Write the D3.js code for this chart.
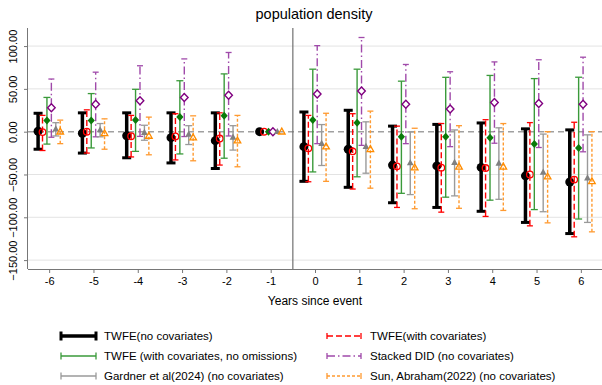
<!DOCTYPE html>
<html><head><meta charset="utf-8">
<script src="https://cdn.jsdelivr.net/npm/d3@7"></script>
<style>body{margin:0;background:#fff}svg{display:block;font-family:"Liberation Sans",Arial,sans-serif}</style>
</head><body>
<svg id="c" width="602" height="385"></svg>
<script>
const years = [-6,-5,-4,-3,-2,-1,0,1,2,3,4,5,6];
const yTicks = [100,50,0,-50,-100,-150];

const twfeNoCovEst = [0.5,-1.8,-4.7,-7,-10.5,0,-17.5,-20.5,-39,-40,-41.7,-51.6,-58.8];
const twfeNoCovLo  = [-20.5,-25,-30.5,-36.5,-43,0,-58,-65,-83,-88.5,-93,-106,-119];
const twfeNoCovHi  = [21.5,22,22,22,22,0,23,25,6.5,8.5,10.2,3.3,2.1];

const twfeCovEst = [-0.5,0,-5.3,-5.5,-8,0,-19.5,-23,-40.5,-42,-42.5,-50,-56];
const twfeCovLo  = [-22,-25,-29.5,-33,-39,0,-58.5,-67,-88.5,-94,-99,-110,-122.8];
const twfeCovHi  = [19,25.5,19,21,22,0,19,21,6.5,9.5,14,10.6,11];

const twfeNoOmitEst = [13,13,13.5,17,18.5,0,13.5,10.5,-6,-6,-7,-14.5,-19];
const twfeNoOmitLo  = [-14.5,-19,-23,-26,-31,0,-47,-52.7,-72,-76.5,-80,-91,-102];
const twfeNoOmitHi  = [40,44.5,49.5,59.5,67.5,0,73,73,59,63.5,65.7,62,63.6];

const stackedEst = [28,32,36,40,42.5,0,44,47.5,32,26.5,34,33,32];
const stackedLo  = [-6.5,-6,-5.5,-5.7,-5,0,-14,-16,-14,-17.5,-13.5,-18.5,-23.5];
const stackedHi  = [61.5,69.5,77,85,92.5,0,100.5,110,78.5,70,81.5,84,87];

const gardnerEst = [3,2,-1,-3,-6.5,0,-14,-17.5,-36.5,-36,-37,-47.5,-54.3];
const gardnerLo  = [-5,-6,-10,-15,-21.5,0,-39.5,-48.5,-73.5,-75,-79,-93.5,-106];
const gardnerHi  = [10.5,9.5,7.5,7,7,0,8.3,11.5,-0.3,2,4.5,-2.8,-3.7];

const sunEst = [0,-2,-5,-7,-10.5,0,-17.5,-20.5,-42,-41,-41,-52.5,-58];
const sunLo  = [-14,-20.5,-27,-34,-41,0,-58,-66,-90,-89.5,-92,-106.5,-117];
const sunHi  = [13.5,15,17,18.5,19,0,21.5,24,4,7,9.5,0,0];

const labels = ["TWFE(no covariates)","TWFE(with covariates)","TWFE (with covariates, no omissions)","Stacked DID (no covariates)","Gardner et al(2024) (no covariates)","Sun, Abraham(2022) (no covariates)"];

const series = [
  {name:labels[0], est:twfeNoCovEst, lo:twfeNoCovLo, hi:twfeNoCovHi, off:-0.25, color:"#000", mcolor:"#000", w:3.5, dash:null, cap:4.5, capW:3, marker:"dot"},
  {name:labels[1], est:twfeCovEst, lo:twfeCovLo, hi:twfeCovHi, off:-0.15, color:"#ff0000", mcolor:"#ff0000", w:1.4, dash:"6,3", cap:3, capW:1.3, marker:"circle"},
  {name:labels[2], est:twfeNoOmitEst, lo:twfeNoOmitLo, hi:twfeNoOmitHi, off:-0.05, color:"#3a9a3a", mcolor:"#0a7a0a", w:1.4, dash:null, cap:3.5, capW:1.3, marker:"diamondF"},
  {name:labels[3], est:stackedEst, lo:stackedLo, hi:stackedHi, off:0.05, color:"#a04aaa", mcolor:"#800080", w:1.4, dash:"8,3,1.5,3", cap:3, capW:1.3, marker:"diamondO"},
  {name:labels[4], est:gardnerEst, lo:gardnerLo, hi:gardnerHi, off:0.15, color:"#9a9a9a", mcolor:"#808080", w:1.4, dash:null, cap:3.5, capW:1.3, marker:"triF"},
  {name:labels[5], est:sunEst, lo:sunLo, hi:sunHi, off:0.25, color:"#ff9a30", mcolor:"#ff8c00", w:1.4, dash:"3,2", cap:3, capW:1.3, marker:"triO"}
];

const svg = d3.select("#c");
const pL = 28, pR = 602, pT = 28, pB = 269;
const x = d3.scaleLinear().domain([-6.5,6.5]).range([27,603]);
const y = d3.scaleLinear().domain([-160.4,121.1]).range([pB,pT]);

// gridlines
svg.append("g").selectAll("line").data(yTicks.filter(d=>d!==0)).join("line")
  .attr("x1",pL).attr("x2",pR).attr("y1",d=>y(d)).attr("y2",d=>y(d))
  .attr("stroke","#e3e3e3").attr("stroke-width",1);
// zero dashed
svg.append("line").attr("x1",pL).attr("x2",pR).attr("y1",y(0)).attr("y2",y(0))
  .attr("stroke","#a0a0a0").attr("stroke-width",1.5).attr("stroke-dasharray","6,4");
// vertical event line
svg.append("line").attr("x1",x(-0.5)).attr("x2",x(-0.5)).attr("y1",pT).attr("y2",pB)
  .attr("stroke","#707070").attr("stroke-width",1.2);

// axes
const yAxis = d3.axisLeft(y).tickValues(yTicks).tickSize(4).tickFormat(d3.format(".2f"));
const gy = svg.append("g").attr("transform",`translate(${pL},0)`).call(yAxis);
gy.select(".domain").attr("stroke","#777").attr("d",`M-0.5,${pT}V${pB}`);
gy.selectAll(".tick line").attr("stroke","#777");
gy.selectAll(".tick text").attr("font-size",11).attr("fill","#000")
  .attr("text-anchor","middle").attr("x",null).attr("dy",null)
  .attr("transform","translate(-11.5,0) rotate(-90)");

const xAxis = d3.axisBottom(x).tickValues(years).tickSize(4).tickFormat(d=>d<0?"-"+Math.abs(d):d);
const gx = svg.append("g").attr("transform",`translate(0,${pB})`).call(xAxis);
gx.select(".domain").attr("stroke","#777").attr("d",`M${pL},0.5H${pR}`);
gx.selectAll(".tick line").attr("stroke","#777");
gx.selectAll(".tick text").attr("font-size",11).attr("fill","#000").attr("y",8).attr("dy","0.71em");

svg.append("text").attr("x",315).attr("y",305).attr("text-anchor","middle").attr("font-size",12).text("Years since event");
svg.append("text").attr("x",314).attr("y",19).attr("text-anchor","middle").attr("font-size",14.5).text("population density");

function drawMarker(g, s, cx, cy) {
  if (s.marker==="dot") g.append("circle").attr("cx",cx).attr("cy",cy).attr("r",4.5).attr("fill",s.mcolor);
  else if (s.marker==="circle") g.append("circle").attr("cx",cx).attr("cy",cy).attr("r",3.3).attr("fill","none").attr("stroke",s.mcolor).attr("stroke-width",1.3);
  else if (s.marker==="diamondF") g.append("path").attr("d",`M${cx},${cy-4}L${cx+3.6},${cy}L${cx},${cy+4}L${cx-3.6},${cy}Z`).attr("fill",s.mcolor);
  else if (s.marker==="diamondO") g.append("path").attr("d",`M${cx},${cy-4}L${cx+3.8},${cy}L${cx},${cy+4}L${cx-3.8},${cy}Z`).attr("fill","#fff").attr("stroke",s.mcolor).attr("stroke-width",1.4);
  else if (s.marker==="triF") g.append("path").attr("d",`M${cx},${cy-3.8}L${cx+3.4},${cy+2.4}L${cx-3.4},${cy+2.4}Z`).attr("fill",s.mcolor);
  else if (s.marker==="triO") g.append("path").attr("d",`M${cx},${cy-3.6}L${cx+3.3},${cy+2.3}L${cx-3.3},${cy+2.3}Z`).attr("fill","none").attr("stroke",s.mcolor).attr("stroke-width",1.3);
}

series.forEach(s => {
  const g = svg.append("g");
  years.forEach((yr,j) => {
    const cx = x(yr + s.off);
    if (s.lo[j] !== s.hi[j]) {
      g.append("line").attr("x1",cx).attr("x2",cx).attr("y1",y(s.lo[j])).attr("y2",y(s.hi[j]))
        .attr("stroke",s.color).attr("stroke-width",s.w).attr("stroke-dasharray",s.dash);
      [s.lo[j], s.hi[j]].forEach(v => {
        g.append("line").attr("x1",cx-s.cap).attr("x2",cx+s.cap).attr("y1",y(v)).attr("y2",y(v))
          .attr("stroke",s.color).attr("stroke-width",s.capW);
      });
    }
  });
  years.forEach((yr,j) => drawMarker(g, s, x(yr + s.off), y(s.est[j])));
});

// legend
const rows = [336,356,376];
const cols = [{x1:61,x2:96,tx:104},{x1:327,x2:361,tx:370}];
series.forEach((s,i) => {
  const c = cols[i%2], ry = rows[Math.floor(i/2)];
  const g = svg.append("g");
  g.append("line").attr("x1",c.x1).attr("x2",c.x2).attr("y1",ry).attr("y2",ry)
    .attr("stroke",s.color).attr("stroke-width",s.w).attr("stroke-dasharray",s.dash);
  [c.x1,c.x2].forEach(xx => g.append("line").attr("x1",xx).attr("x2",xx).attr("y1",ry-s.cap).attr("y2",ry+s.cap)
    .attr("stroke",s.color).attr("stroke-width",s.capW));
  g.append("text").attr("x",c.tx).attr("y",ry+4.2).attr("font-size",11.5).text(s.name);
});
</script>
</body></html>
